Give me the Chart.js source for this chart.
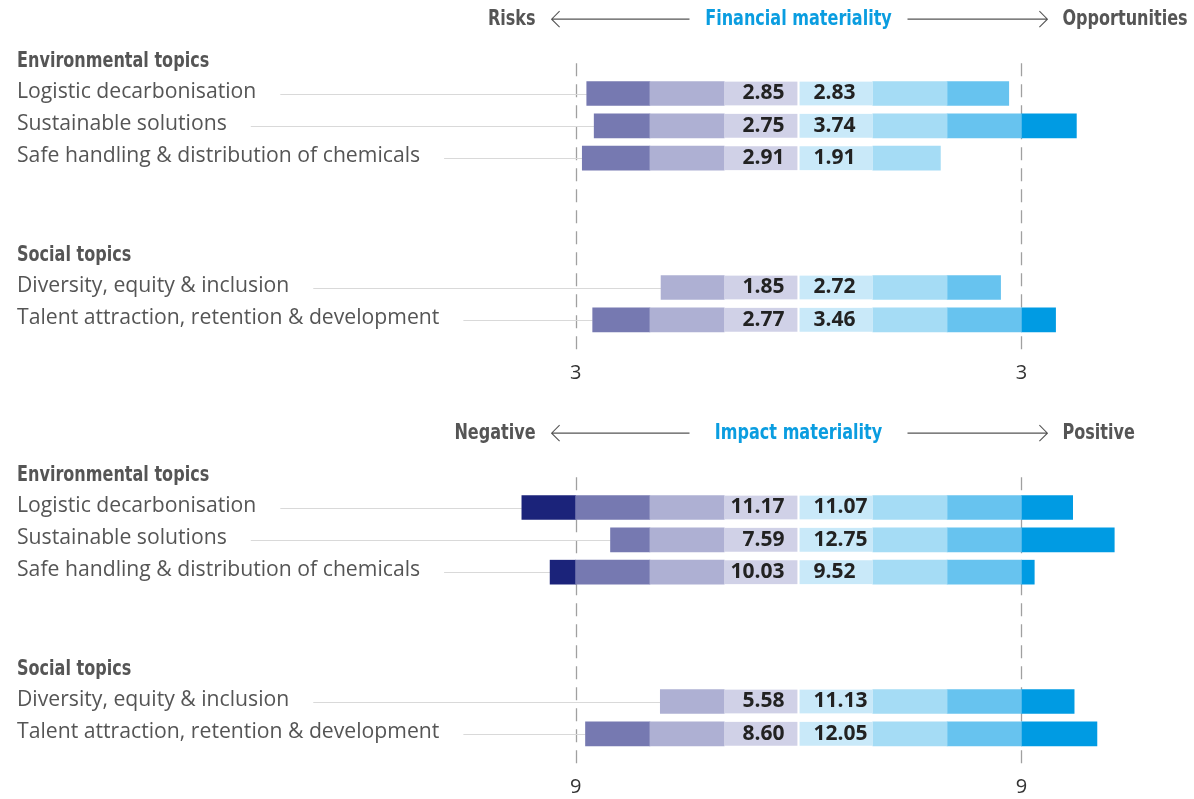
<!DOCTYPE html>
<html>
<head>
<meta charset="utf-8">
<script src="https://cdn.jsdelivr.net/npm/chart.js@4"></script>
<style>
  html, body { margin: 0; padding: 0; background: #fff; overflow: hidden; }
  .panel { position: absolute; left: 0; width: 1194px; height: 428px; }
</style>
</head>
<body>
<div class="panel" style="top:0"><canvas id="finChart"></canvas></div>
<div class="panel" style="top:414px"><canvas id="impChart"></canvas></div>
<script>
// rows (headers and blank spacer rows included)
const rowLabels = [
  'Environmental topics',
  'Logistic decarbonisation',
  'Sustainable solutions',
  'Safe handling & distribution of chemicals',
  '', '',
  'Social topics',
  'Diversity, equity & inclusion',
  'Talent attraction, retention & development'
];
const headerRows = [0, 6];

// Financial materiality
const finRisks = [null, 2.85, 2.75, 2.91, null, null, null, 1.85, 2.77];
const finOpportunities = [null, 2.83, 3.74, 1.91, null, null, null, 2.72, 3.46];
const finTicks = [-3, 3];

// Impact materiality
const impNegative = [null, 11.17, 7.59, 10.03, null, null, null, 5.58, 8.60];
const impPositive = [null, 11.07, 12.75, 9.52, null, null, null, 11.13, 12.05];
const impTicks = [-9, 9];

const leftColors = ['#d0d1e7', '#aeb0d3', '#7679b1', '#1b237a'];
const rightColors = ['#c9e9f9', '#a5dcf5', '#67c3ef', '#009be3'];

const condFont = "'DejaVu Sans Condensed', 'DejaVu Sans', sans-serif";
const bodyFont = "'Open Sans', 'Noto Sans', sans-serif";

// cut a value into bands of `step` units, the last band takes the rest
function band(values, i, step, sign) {
  return values.map(v => {
    if (v == null) return null;
    let part = v - i * step;
    if (i < 3) part = Math.min(step, part);
    return part > 0 ? sign * part : null;
  });
}

function buildDatasets(leftVals, rightVals, step) {
  const sets = [];
  for (let i = 0; i < 4; i++) {
    sets.push({
      data: band(leftVals, i, step, -1),
      backgroundColor: leftColors[i],
      borderColor: '#ffffff',
      borderWidth: i === 0 ? { right: 1.4, left: 0, top: 0, bottom: 0 } : 0,
      borderSkipped: false
    });
  }
  for (let i = 0; i < 4; i++) {
    sets.push({
      data: band(rightVals, i, step, 1),
      backgroundColor: rightColors[i],
      borderColor: '#ffffff',
      borderWidth: i === 0 ? { left: 1.4, right: 0, top: 0, bottom: 0 } : 0,
      borderSkipped: false
    });
  }
  return sets;
}

// bold narrow text: condensed face squeezed a bit more
function narrowText(ctx, text, x, y, align) {
  ctx.save();
  ctx.translate(x, y);
  ctx.scale(0.85, 1);
  ctx.font = "bold 21px " + condFont;
  ctx.textAlign = align;
  ctx.textBaseline = 'middle';
  ctx.fillText(text, 0, 0);
  ctx.restore();
}

function arrow(ctx, x1, x2, y, headAt) {
  ctx.beginPath();
  ctx.moveTo(x1, y); ctx.lineTo(x2, y);
  const hx = headAt === 'left' ? x1 : x2;
  const d = headAt === 'left' ? 8 : -8;
  ctx.moveTo(hx + d, y - 8); ctx.lineTo(hx, y); ctx.lineTo(hx + d, y + 8);
  ctx.stroke();
}

const decor = {
  id: 'decor',
  beforeDatasetsDraw(chart, args, opts) {
    const { ctx, chartArea } = chart;
    const x = chart.scales.x, y = chart.scales.y;
    ctx.save();

    // dashed reference lines
    ctx.strokeStyle = '#a0a0a0';
    ctx.lineWidth = 1.3;
    ctx.setLineDash([13, 8]);
    opts.ticks.forEach(t => {
      const px = Math.round(x.getPixelForValue(t)) + 0.5;
      ctx.beginPath();
      ctx.moveTo(px, y.getPixelForValue(0) + 2);
      ctx.lineTo(px, chartArea.bottom + 19);
      ctx.stroke();
    });
    ctx.setLineDash([]);

    // row labels with connector lines
    ctx.textBaseline = 'middle';
    ctx.textAlign = 'left';
    rowLabels.forEach((lab, i) => {
      if (!lab) return;
      const py = y.getPixelForValue(i);
      if (headerRows.includes(i)) {
        ctx.fillStyle = '#555555';
        narrowText(ctx, lab, 17, py, 'left');
        return;
      }
      ctx.font = "21.2px " + bodyFont;
      ctx.fillStyle = '#555555';
      ctx.fillText(lab, 17, py - 2);
      const w = ctx.measureText(lab).width;
      const end = x.getPixelForValue(-opts.left[i]);
      ctx.strokeStyle = '#d9d9d9';
      ctx.lineWidth = 1;
      ctx.beginPath();
      ctx.moveTo(17 + w + 24, Math.round(py) + 0.5);
      ctx.lineTo(end, Math.round(py) + 0.5);
      ctx.stroke();
    });

    // title row with arrows
    const ty = y.getPixelForValue(0) - 42;
    const cx = x.getPixelForValue(0);
    const lx = x.getPixelForValue(opts.ticks[0]);
    const rx = x.getPixelForValue(opts.ticks[1]);
    ctx.fillStyle = '#555555';
    narrowText(ctx, opts.leftTitle, lx - 40, ty, 'right');
    narrowText(ctx, opts.rightTitle, rx + 41, ty, 'left');
    ctx.fillStyle = '#0a9de0';
    narrowText(ctx, opts.title, cx, ty, 'center');
    ctx.strokeStyle = '#555555';
    ctx.lineWidth = 1.1;
    arrow(ctx, lx - 24, cx - 109, ty, 'left');
    arrow(ctx, cx + 109, rx + 26, ty, 'right');
    ctx.restore();
  },
  afterDatasetsDraw(chart, args, opts) {
    const { ctx } = chart;
    const x = chart.scales.x, y = chart.scales.y;
    const cx = x.getPixelForValue(0);
    ctx.save();
    ctx.font = "bold 21px " + bodyFont;
    ctx.fillStyle = '#222222';
    ctx.textBaseline = 'middle';
    opts.left.forEach((v, i) => {
      if (v == null) return;
      const py = y.getPixelForValue(i);
      ctx.textAlign = 'right';
      ctx.fillText(v.toFixed(2), cx - 14, py);
      ctx.textAlign = 'left';
      ctx.fillText(opts.right[i].toFixed(2), cx + 15, py);
    });
    ctx.restore();
  }
};

function makeChart(id, leftVals, rightVals, step, ticks, titles) {
  const range = step * 5;
  return new Chart(document.getElementById(id), {
    type: 'bar',
    data: { labels: rowLabels, datasets: buildDatasets(leftVals, rightVals, step) },
    plugins: [decor],
    options: {
      indexAxis: 'y',
      responsive: true,
      maintainAspectRatio: false,
      animation: false,
      datasets: { bar: { barThickness: 24 } },
      layout: { padding: { left: 427, right: 24, top: 45, bottom: 18 } },
      scales: {
        x: {
          stacked: true,
          min: -range, max: range,
          afterBuildTicks: s => { s.ticks = ticks.map(v => ({ value: v })); },
          grid: { display: false, drawTicks: false },
          border: { display: false },
          ticks: {
            padding: 25,
            color: '#333333',
            font: { family: bodyFont, size: 20 },
            callback: v => Math.abs(v)
          }
        },
        y: { stacked: true, display: false }
      },
      plugins: {
        legend: { display: false },
        tooltip: { enabled: false },
        decor: {
          left: leftVals, right: rightVals, ticks: ticks,
          leftTitle: titles[0], title: titles[1], rightTitle: titles[2]
        }
      }
    }
  });
}

makeChart('finChart', finRisks, finOpportunities, 1, finTicks,
  ['Risks', 'Financial materiality', 'Opportunities']);
makeChart('impChart', impNegative, impPositive, 3, impTicks,
  ['Negative', 'Impact materiality', 'Positive']);
</script>
</body>
</html>
